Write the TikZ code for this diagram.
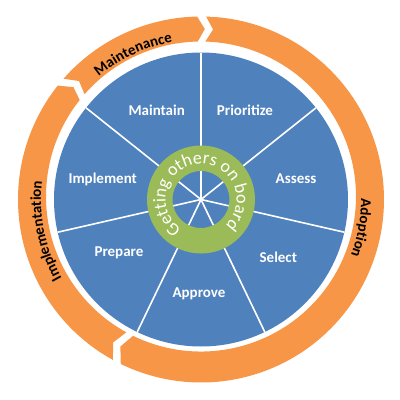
\documentclass[tikz,border=0pt]{standalone}
\usepackage{fontspec}
\setmainfont{Carlito}
\usetikzlibrary{decorations.text}
\definecolor{wheelblue}{RGB}{79,129,189}
\definecolor{cycleorange}{RGB}{247,150,70}
\definecolor{hubgreen}{RGB}{155,187,89}

\begin{document}
\begin{tikzpicture}[x=1pt, y=1pt,
    seglabel/.style={text=white, font=\fontsize{15}{18}\selectfont\bfseries},
    spoke/.style={draw=white, line width=1.6pt},
    phasearrow/.style={fill=cycleorange},
    phasetext/.style={decorate, decoration={text along path, text align=center,
        text={|\fontsize{15}{18}\selectfont\bfseries|#1}}},
    hubtext/.style={decorate, decoration={text along path, text align=center, text color=white,
        text={|\fontsize{18}{21}\selectfont|#1}}}
  ]
  \useasboundingbox (-201,-200.5) rectangle (199,199.5);
  \coordinate (hub) at (0,0);

  % Wheel
  \fill[wheelblue] (hub) circle[radius=147];
  \foreach \i in {0,...,6}
    \draw[spoke] (hub) -- (90-\i*360/7:147);

  % Phases
  \foreach \a/\b in {88.4/-118.5, 241.2/139, 138.7/88.7} {
    \fill[phasearrow] (\a:183) arc[start angle=\a, end angle=\b+2.5, radius=183]
      -- ([shift={(0,1.5)}]\b:169)
      -- ([shift={(0,3)}]\b+2.5:155) arc[start angle=\b+2.5, end angle=\a, radius=155]
      -- ([shift={(0,1.5)}]\a-2.5:169) -- cycle;
  }
  \path[phasetext=Maintenance] (140:160) arc[start angle=140, end angle=90, radius=160];
  \path[phasetext=Implementation] (240:160) arc[start angle=240, end angle=143, radius=160];
  \path[phasetext=Adoption] (20:160) arc[start angle=20, end angle=-40, radius=160];

  % Hub
  \fill[hubgreen, even odd rule] (hub) circle[radius=54] (hub) circle[radius=28.5];
  \path[hubtext=Getting others on board] (255:35.5) arc[start angle=255, end angle=-65, radius=35.5];

  % Steps
  \foreach \x/\y/\nm/\txt in {-44.3/89.5/maintain/Maintain, 44/88.8/prioritize/Prioritize,
      95/20.5/assess/Assess, 77.3/-57.8/select/Select, -2/-94.5/approve/Approve,
      -82/-53.8/prepare/Prepare, -98.3/20.5/implement/Implement}
    \node[seglabel] (\nm) at (\x,\y) {\txt};
\end{tikzpicture}
\end{document}
